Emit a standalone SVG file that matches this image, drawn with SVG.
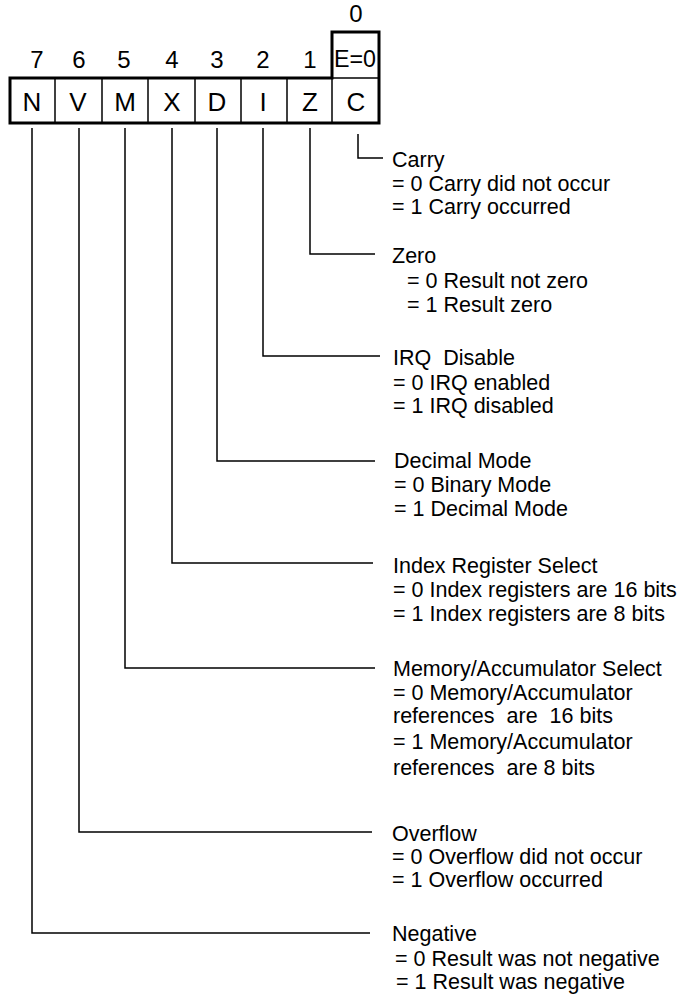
<svg xmlns="http://www.w3.org/2000/svg" width="691" height="996" viewBox="0 0 691 996">
<style>
text{font-family:"Liberation Sans",Arial,sans-serif;fill:#000}
.lbl{font-size:21.5px;white-space:pre}
.bit{font-size:24px;text-anchor:middle}
.cell{font-size:26px;text-anchor:middle}
.lead{fill:none;stroke:#000;stroke-width:1.5}
.sep{stroke:#000;stroke-width:1.5}
</style>
<rect width="691" height="996" fill="#fff"/>
<g id="register">
<path d="M10,78 H332 V32 H379 V123 H10 Z" fill="none" stroke="#000" stroke-width="3"/>
<line class="sep" x1="332" y1="78" x2="379" y2="78"/>
<line class="sep" x1="55" y1="78" x2="55" y2="123"/>
<line class="sep" x1="102" y1="78" x2="102" y2="123"/>
<line class="sep" x1="148" y1="78" x2="148" y2="123"/>
<line class="sep" x1="195" y1="78" x2="195" y2="123"/>
<line class="sep" x1="241" y1="78" x2="241" y2="123"/>
<line class="sep" x1="287" y1="78" x2="287" y2="123"/>
<line class="sep" x1="332" y1="78" x2="332" y2="123"/>
<text class="bit" x="37" y="68">7</text>
<text class="bit" x="79" y="68">6</text>
<text class="bit" x="124" y="68">5</text>
<text class="bit" x="172" y="68">4</text>
<text class="bit" x="217" y="68">3</text>
<text class="bit" x="263" y="68">2</text>
<text class="bit" x="310" y="68">1</text>
<text class="bit" x="356" y="22">0</text>
<text x="334" y="67" style="font-size:24px" textLength="42" lengthAdjust="spacingAndGlyphs">E=0</text>
<text class="cell" x="32" y="111">N</text>
<text class="cell" x="78" y="111">V</text>
<text class="cell" x="125" y="111">M</text>
<text class="cell" x="172" y="111">X</text>
<text class="cell" x="217" y="111">D</text>
<text class="cell" x="263" y="111">I</text>
<text class="cell" x="310" y="111">Z</text>
<text class="cell" x="356" y="111">C</text>
</g>
<g id="connectors">
<path class="lead" d="M32,128 V933 H370"/>
<path class="lead" d="M79,128 V832 H372"/>
<path class="lead" d="M125,128 V668 H375"/>
<path class="lead" d="M172,128 V563 H373"/>
<path class="lead" d="M217,128 V461 H375"/>
<path class="lead" d="M263,128 V356 H380"/>
<path class="lead" d="M310,128 V254 H375"/>
<path class="lead" d="M358,134 V158 H383"/>
</g>
<g id="carry">
<text class="lbl" x="392" y="167">Carry</text>
<text class="lbl" x="392" y="191">= 0 Carry did not occur</text>
<text class="lbl" x="392" y="214">= 1 Carry occurred</text>
</g>
<g id="zero">
<text class="lbl" x="392" y="263">Zero</text>
<text class="lbl" x="407" y="288">= 0 Result not zero</text>
<text class="lbl" x="407" y="312">= 1 Result zero</text>
</g>
<g id="irq">
<text class="lbl" x="393" y="365">IRQ  Disable</text>
<text class="lbl" x="393" y="390">= 0 IRQ enabled</text>
<text class="lbl" x="393" y="413">= 1 IRQ disabled</text>
</g>
<g id="decimal">
<text class="lbl" x="394" y="468">Decimal Mode</text>
<text class="lbl" x="394" y="492">= 0 Binary Mode</text>
<text class="lbl" x="394" y="516">= 1 Decimal Mode</text>
</g>
<g id="index">
<text class="lbl" x="393" y="573">Index Register Select</text>
<text class="lbl" x="393" y="597">= 0 Index registers are 16 bits</text>
<text class="lbl" x="393" y="621">= 1 Index registers are 8 bits</text>
</g>
<g id="memory">
<text class="lbl" x="393" y="676">Memory/Accumulator Select</text>
<text class="lbl" x="393" y="700">= 0 Memory/Accumulator</text>
<text class="lbl" x="393" y="723">references  are  16 bits</text>
<text class="lbl" x="393" y="749">= 1 Memory/Accumulator</text>
<text class="lbl" x="393" y="775">references  are 8 bits</text>
</g>
<g id="overflow">
<text class="lbl" x="392" y="841">Overflow</text>
<text class="lbl" x="392" y="864">= 0 Overflow did not occur</text>
<text class="lbl" x="392" y="887">= 1 Overflow occurred</text>
</g>
<g id="negative">
<text class="lbl" x="392" y="941">Negative</text>
<text class="lbl" x="395" y="966">= 0 Result was not negative</text>
<text class="lbl" x="396" y="989">= 1 Result was negative</text>
</g>
</svg>
